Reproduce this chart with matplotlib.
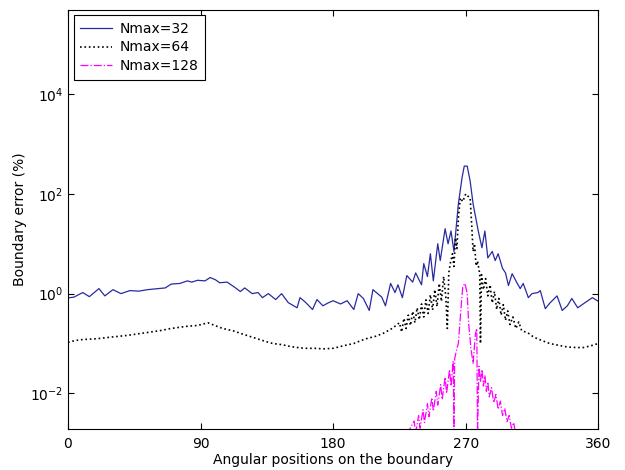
import matplotlib
matplotlib.use("Agg")
import matplotlib.pyplot as plt
from matplotlib.ticker import FixedLocator, NullLocator

# Nmax=32 (angle in degrees / error in %)
ang_32 = [0, 4, 10, 14.5, 21, 25, 30.5, 36, 42, 48, 54, 60, 66, 70, 76, 81, 84, 88,
          93, 96.5, 100, 103, 108, 113, 117, 120, 125, 129, 132, 136, 141, 145, 149.5,
          155.5, 157.5, 161, 166, 169, 173, 177, 180, 185, 189.5, 194, 197, 200.5,
          204.5, 207, 213, 215.5, 219, 222, 224, 227, 230, 234, 236, 240, 241.5, 244,
          246, 248, 251, 252.7, 256, 258, 260, 262, 265, 267.5, 269, 271, 273, 275,
          278.5, 281, 283, 285, 288, 290, 292, 295, 297, 299, 301.5, 305, 307, 309,
          312.5, 315, 319, 320.6, 324, 327.4, 332, 335.5, 339, 342, 346, 351, 356, 360]
err_32 = [0.82, 0.85, 1.05, 0.87, 1.26, 0.9, 1.2, 1.0, 1.15, 1.12, 1.2, 1.25, 1.3, 1.55,
          1.6, 1.8, 1.7, 1.85, 1.8, 2.1, 1.9, 1.65, 1.7, 1.35, 1.1, 1.3, 1.0, 1.05, 0.83,
          1.0, 0.76, 1.0, 0.66, 0.52, 0.83, 0.68, 0.48, 0.76, 0.57, 0.66, 0.72, 0.62,
          0.72, 0.48, 1.0, 0.8, 0.46, 1.2, 0.85, 0.57, 1.6, 1.05, 1.5, 0.83, 2.3, 1.7,
          2.6, 1.5, 4.0, 2.2, 6.3, 1.8, 10, 4.6, 20, 10, 18, 7, 63, 210, 360, 360, 180,
          63, 18, 8.3, 18, 5.2, 7, 4.6, 6.3, 3.2, 2.6, 1.45, 2.5, 1.6, 1.26, 1.6, 0.83,
          1.0, 1.05, 1.15, 0.5, 0.66, 0.9, 0.46, 0.57, 0.8, 0.52, 0.66, 0.83, 0.7]

# Nmax=64
ang_64 = [0, 5, 10, 20, 30, 40, 50, 62, 70, 80, 88, 95, 98, 105, 112, 117, 123, 128,
          134, 139, 145, 151, 157, 162, 168, 173, 180, 187, 194, 199, 203, 209, 214,
          220, 225, 226.5, 228, 229.5, 231, 232.5, 234, 235.5, 237, 238.5, 240, 241.5,
          243, 244.5, 246, 247.5, 249, 250.5, 252, 253.5, 255, 256.5, 257.5, 258.5,
          259.5, 261, 262, 263, 264, 265, 266.3, 268, 270, 271.5, 273, 274, 275, 276,
          277, 278, 279.5, 280, 280.7, 282, 283.5, 285, 286.5, 288, 289.5, 291, 292.5,
          294, 295.5, 297, 298.5, 300, 302, 304, 306, 308, 312, 316, 320, 327, 333,
          339, 345, 350, 355, 360]
err_64 = [0.105, 0.115, 0.12, 0.125, 0.135, 0.145, 0.16, 0.18, 0.2, 0.22, 0.23, 0.26,
          0.24, 0.2, 0.18, 0.16, 0.14, 0.126, 0.11, 0.1, 0.095, 0.087, 0.082, 0.08,
          0.08, 0.078, 0.08, 0.09, 0.1, 0.115, 0.126, 0.14, 0.16, 0.2, 0.26, 0.17, 0.32,
          0.2, 0.37, 0.23, 0.44, 0.26, 0.52, 0.3, 0.62, 0.34, 0.75, 0.4, 0.95, 0.47,
          1.2, 0.55, 1.6, 0.7, 2.2, 0.85, 0.2, 2.6, 4.0, 6.3, 3.5, 13, 8, 33, 83, 70,
          100, 90, 83, 25, 7, 10, 3.6, 4.5, 2.5, 0.1, 2.4, 1.2, 2.0, 0.9, 1.5, 0.65, 1.1,
          0.48, 0.8, 0.37, 0.6, 0.29, 0.45, 0.24, 0.34, 0.2, 0.27, 0.18, 0.165, 0.135,
          0.12, 0.1, 0.092, 0.085, 0.083, 0.083, 0.09, 0.1]

# Nmax=128
ang_128 = [0, 225, 230, 235, 236, 238, 239, 241, 242, 244, 245, 247, 248, 250, 251,
           253, 254, 256, 257, 259, 260, 261.5, 262, 262.5, 264, 265, 266.5, 268, 269.5,
           271, 272, 273.5, 275, 276.5, 277.5, 278, 279, 280, 281, 282, 283, 284, 285,
           286, 287.5, 289, 290.5, 292, 293.5, 295, 296.5, 298, 299.5, 301, 302.5, 304,
           305, 310, 360]
err_128 = [1e-4, 8e-4, 0.0015, 0.0028, 0.0016, 0.0036, 0.002, 0.0047, 0.0026, 0.0062,
           0.0034, 0.0082, 0.0044, 0.011, 0.0058, 0.015, 0.0075, 0.021, 0.01, 0.03,
           0.014, 0.045, 0.0015, 0.05, 0.08, 0.1, 0.4, 1.4, 1.6, 1.0, 0.25, 0.08, 0.04,
           0.15, 0.2, 0.0015, 0.035, 0.017, 0.03, 0.014, 0.023, 0.011, 0.017, 0.0085,
           0.013, 0.0065, 0.0095, 0.0048, 0.007, 0.0036, 0.005, 0.0027, 0.0036, 0.002,
           0.0026, 0.0015, 0.0012, 8e-4, 1e-4]

x_ticks = [0, 90, 180, 270, 360]
y_ticks = [1e-2, 1e0, 1e2, 1e4]

plt.rcParams['font.family'] = 'DejaVu Sans'
plt.rcParams['font.size'] = 10

fig = plt.figure(figsize=(6.25, 4.70), dpi=100)
ax = fig.add_axes([0.1088, 0.0872, 0.8485, 0.892])

ax.plot(ang_32, err_32, '-', color='#2a2aa0', lw=0.9, label='Nmax=32')
ax.plot(ang_64, err_64, ':', color='black', lw=1.2, label='Nmax=64')
ax.plot(ang_128, err_128, '-.', color='#ff00ff', lw=0.9, label='Nmax=128')

ax.set_yscale('log')
ax.set_xlim(0, 360)
ax.set_ylim(1.93e-3, 4.9e5)
ax.xaxis.set_major_locator(FixedLocator(x_ticks))
ax.yaxis.set_major_locator(FixedLocator(y_ticks))
ax.yaxis.set_minor_locator(NullLocator())
ax.tick_params(direction='in', length=4, width=0.8, top=True, right=True)
ax.tick_params(axis='x', pad=6)

ax.set_xlabel('Angular positions on the boundary', labelpad=1)
ax.set_ylabel('Boundary error (%)', labelpad=2)

leg = ax.legend(loc='upper left', fancybox=False, edgecolor='black', framealpha=1,
                borderaxespad=0.4, handlelength=2.3, handletextpad=0.6,
                labelspacing=0.35, borderpad=0.45)
leg.get_frame().set_linewidth(0.8)

fig.savefig('out.png', dpi=100)
